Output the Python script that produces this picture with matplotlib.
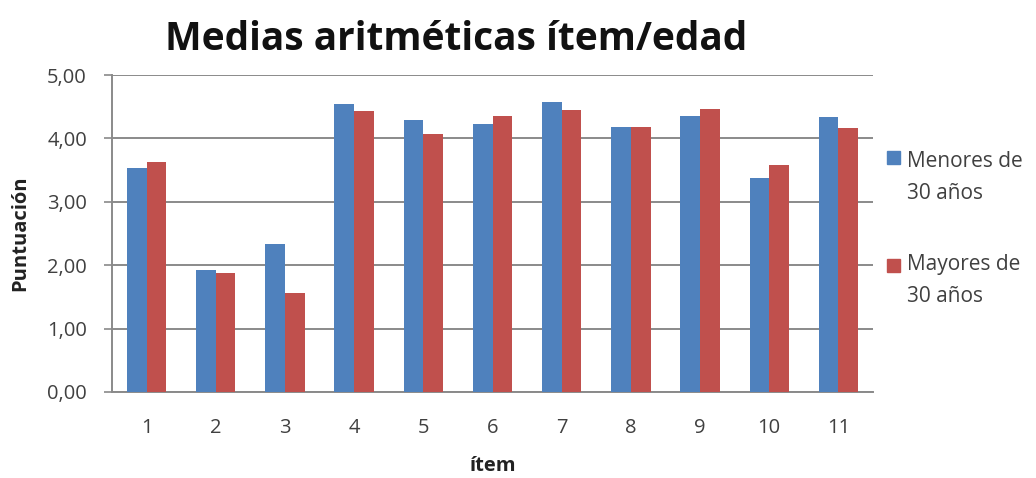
import matplotlib
matplotlib.use("Agg")
import matplotlib.pyplot as plt
import numpy as np
from matplotlib.patches import Rectangle

# Mean score per item, by age group
items = ["1", "2", "3", "4", "5", "6", "7", "8", "9", "10", "11"]
menores_30 = [3.53, 1.93, 2.33, 4.54, 4.29, 4.23, 4.57, 4.18, 4.35, 3.37, 4.33]
mayores_30 = [3.62, 1.88, 1.56, 4.44, 4.07, 4.36, 4.45, 4.18, 4.47, 3.58, 4.16]
series_labels = ["Menores de\n30 años", "Mayores de\n30 años"]
y_ticks = [0, 1, 2, 3, 4, 5]
y_tick_labels = ["0,00", "1,00", "2,00", "3,00", "4,00", "5,00"]

BLUE = "#4F81BD"
RED = "#C0504D"
GRID = "#8A8A8A"
TEXT = "#404040"
FONT = "Open Sans"

plt.rcParams["font.family"] = [FONT, "DejaVu Sans"]

W, H = 1036, 478
fig = plt.figure(figsize=(W / 100, H / 100), dpi=100)
ax = fig.add_axes([112 / W, 1 - 392 / H, (873 - 112) / W, (392 - 75) / H])

x = np.arange(len(items))
bw = 0.285
ax.bar(x - bw / 2, menores_30, width=bw, color=BLUE, zorder=3)
ax.bar(x + bw / 2, mayores_30, width=bw, color=RED, zorder=3)

ax.set_xlim(-0.5, len(items) - 0.5)
ax.set_ylim(0, 5)
ax.set_yticks(y_ticks)
ax.set_yticklabels(y_tick_labels)
ax.set_xticks(x)
ax.set_xticklabels(items)

ax.grid(axis="y", color=GRID, linewidth=1.4, zorder=0)
for side in ["top", "right"]:
    ax.spines[side].set_visible(False)
ax.spines["left"].set_color(GRID)
ax.spines["bottom"].set_color(GRID)
ax.spines["left"].set_linewidth(1.4)
ax.spines["bottom"].set_linewidth(1.4)

ax.tick_params(axis="y", direction="out", length=6, width=1.2, color=GRID,
               labelsize=14.5, labelcolor=TEXT, pad=12)
ax.tick_params(axis="x", length=0, labelsize=14.5, labelcolor=TEXT, pad=19)

ax.set_ylabel("Puntuación", fontsize=14.5, fontweight="bold", color="#222222", labelpad=12)
ax.set_xlabel("ítem", fontsize=14.5, fontweight="bold", color="#222222", labelpad=13)

fig.text(456 / W, 1 - 40 / H, "Medias aritméticas ítem/edad", ha="center", va="center",
         fontsize=28, fontweight="bold", color="#111111")

# Legend: square beside the first line of each two-line label
legend_rows = [(BLUE, 151, 167), (RED, 259, 270)]
line_step = 32
for (color, sq_top, baseline), label in zip(legend_rows, series_labels):
    fig.patches.append(Rectangle((887 / W, 1 - (sq_top + 13) / H), 13 / W, 13 / H,
                                 transform=fig.transFigure, color=color))
    for i, line in enumerate(label.split("\n")):
        fig.text(907 / W, 1 - (baseline + i * line_step) / H, line, ha="left",
                 va="baseline", fontsize=15, color=TEXT)

fig.savefig("out.png", dpi=100)
